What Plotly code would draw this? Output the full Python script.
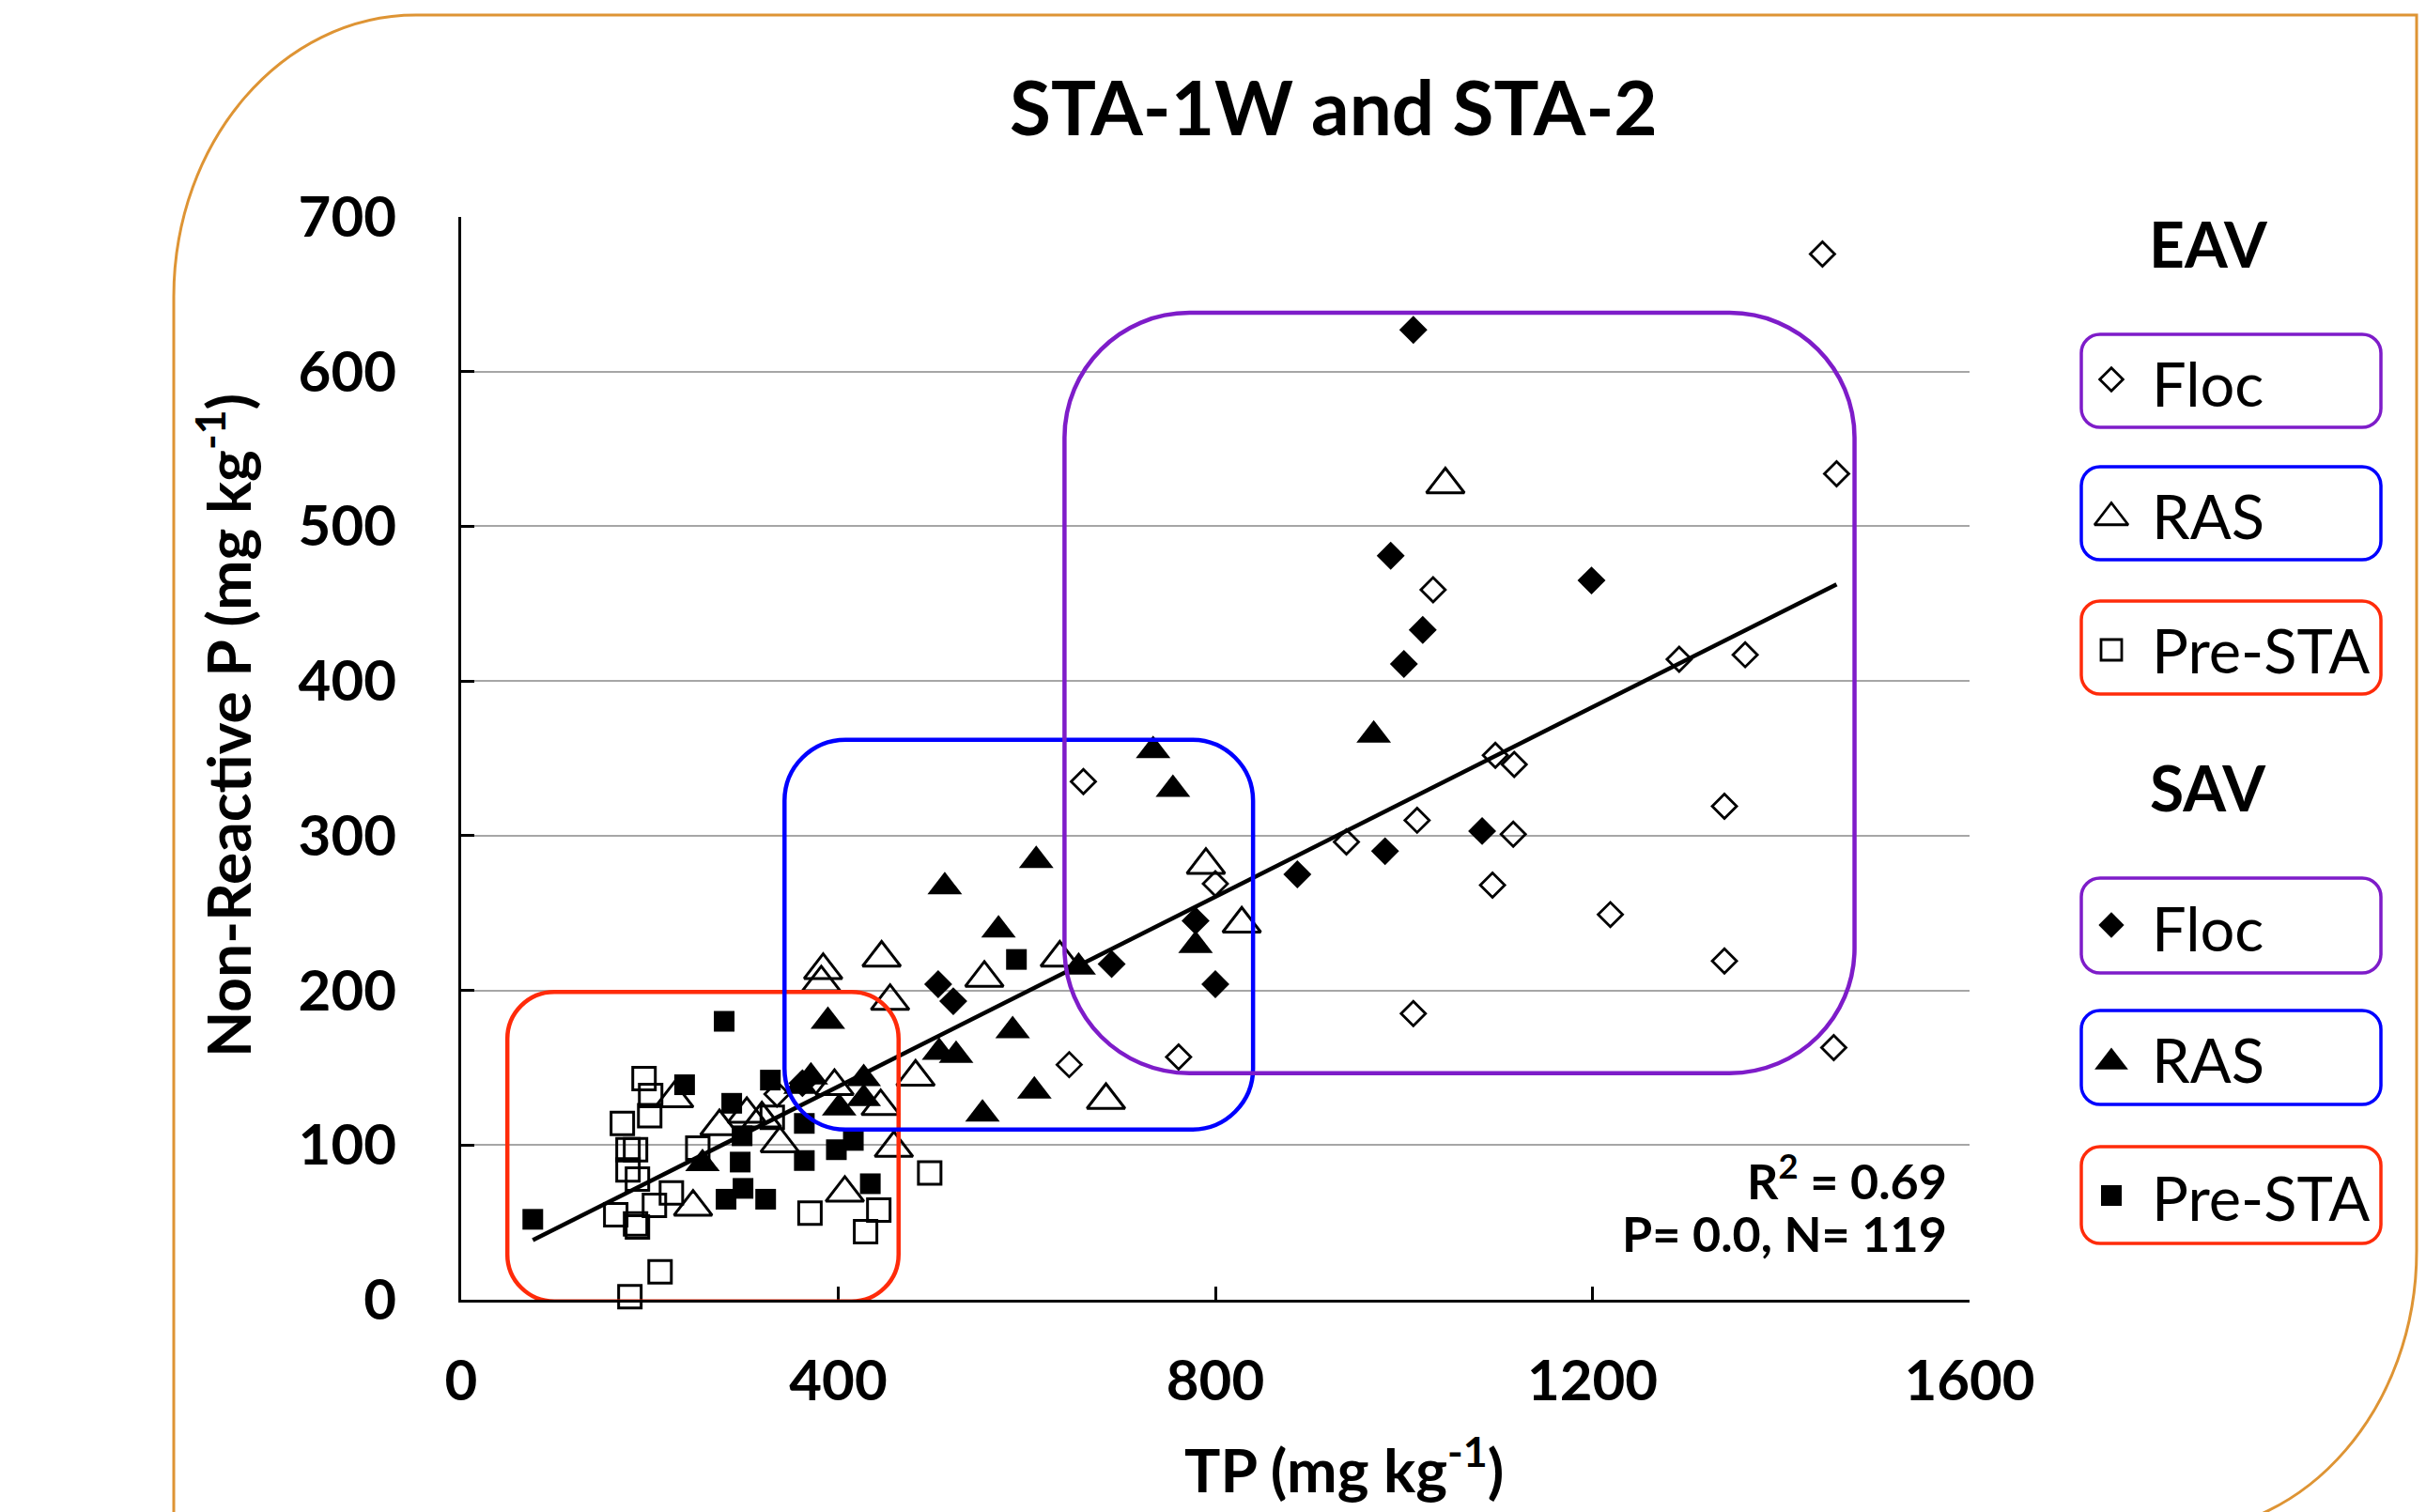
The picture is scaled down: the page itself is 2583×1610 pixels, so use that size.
import plotly.graph_objects as go

# ---------------- data ----------------
eav_floc_tp  = [1444, 1459, 1456, 1031, 1292, 1362, 1097, 1117, 1014, 939, 1116, 1340, 1094, 1219, 1340, 1010, 660, 800, 645, 761, 335]
eav_floc_nrp = [676, 534, 163, 459, 414, 417, 352, 346, 310, 296, 301, 319, 268, 249, 219, 185, 335, 269, 152, 157, 133]

sav_floc_tp  = [1010, 986, 1020, 1000, 1199, 980, 1083, 887, 779, 800, 690, 506, 522, 362]
sav_floc_nrp = [627, 481, 433, 411, 465, 290, 303, 275, 245, 204, 217, 204, 193, 140]

eav_ras_tp  = [1044, 790, 828, 635, 446, 384, 382, 455, 555, 482, 684, 459, 396, 445, 226, 274, 303, 319, 338, 246, 407]
eav_ras_nrp = [527, 281, 243, 221, 221, 213, 205, 193, 208, 144, 129, 98, 138, 125, 130, 112, 120, 117, 101, 60, 69]

sav_ras_tp  = [734, 755, 968, 610, 513, 570, 655, 779, 585, 507, 525, 608, 553, 389, 371, 360, 427, 401, 427, 256]
sav_ras_nrp = [355, 330, 365, 284, 267, 239, 215, 229, 174, 160, 158, 135, 120, 180, 144, 138, 143, 124, 130, 88]

eav_pre_tp  = [194, 201, 200, 171, 177, 185, 177, 187, 223, 205, 164, 185, 187, 211, 179, 251, 370, 443, 429, 330, 497]
eav_pre_nrp = [143, 132, 119, 114, 97, 97, 84, 78, 69, 61, 55, 49, 47, 18, 2, 98, 56, 58, 44, 118, 82]

sav_pre_tp  = [76, 279, 237, 328, 287, 296, 299, 281, 323, 364, 364, 398, 416, 434, 589, 298]
sav_pre_nrp = [52, 180, 139, 142, 127, 89, 72, 65, 65, 114, 90, 97, 103, 75, 220, 106]

# regression line
FIT_SLOPE = 0.3066
FIT_INTERCEPT = 15.2

x_ticks = [0, 400, 800, 1200, 1600]
y_ticks = [0, 100, 200, 300, 400, 500, 600, 700]

legend_groups = ["EAV", "SAV"]
legend_labels = ["Floc", "RAS", "Pre-STA", "Floc", "RAS", "Pre-STA"]

# ---------------- geometry (screen pixels; page has an 8px body margin) ----------------
OFF = 8
W, H = 2583 - OFF, 1610 - OFF
SL, SR, ST, SB = 491, 2097, 231, 1384          # main plot-area bounds on screen
XR, YR = [0, 1600], [0, 700]
FONT = "Lato, sans-serif"
PURPLE, BLUE, RED, ORANGE = "#7E1CC9", "#0000FF", "#FF2B0A", "#DE9434"


def PX(sx):
    return (sx - OFF) / W


def PY(sy):
    return 1 - (sy - OFF) / H


ux = (XR[1] - XR[0]) / (SR - SL)
uy = (YR[1] - YR[0]) / (SB - ST)

K = 0.5523


def rrect(x0, x1, y0, y1, rx, ry):
    """Rounded rectangle path (y0 bottom, y1 top in an upward axis)."""
    return (f"M{x0+rx},{y1} L{x1-rx},{y1} "
            f"C{x1-rx+K*rx},{y1} {x1},{y1-ry+K*ry} {x1},{y1-ry} "
            f"L{x1},{y0+ry} "
            f"C{x1},{y0+ry-K*ry} {x1-rx+K*rx},{y0} {x1-rx},{y0} "
            f"L{x0+rx},{y0} "
            f"C{x0+rx-K*rx},{y0} {x0},{y0+ry-K*ry} {x0},{y0+ry} "
            f"L{x0},{y1-ry} "
            f"C{x0},{y1-ry+K*ry} {x0+rx-K*rx},{y1} {x0+rx},{y1} Z")


fig = go.Figure()

# ---------------- data markers ----------------
def add_pts(x, y, symbol, size, lw=0):
    fig.add_trace(go.Scatter(
        x=x, y=y, mode="markers", cliponaxis=False, showlegend=False, hoverinfo="skip",
        marker=dict(symbol=symbol, size=size, color="black", line=dict(width=lw, color="black"))))

add_pts(eav_pre_tp, eav_pre_nrp, "square-open", 24, 3)
add_pts(sav_pre_tp, sav_pre_nrp, "square", 22)
add_pts(eav_ras_tp, eav_ras_nrp, "triangle-up-open", 35, 3)
add_pts(sav_ras_tp, sav_ras_nrp, "triangle-up", 32)
add_pts(eav_floc_tp, eav_floc_nrp, "diamond-open", 20, 2.8)
add_pts(sav_floc_tp, sav_floc_nrp, "diamond", 23)

all_tp = eav_floc_tp + sav_floc_tp + eav_ras_tp + sav_ras_tp + eav_pre_tp + sav_pre_tp
xa, xb = min(all_tp), max(all_tp)
fig.add_trace(go.Scatter(
    x=[xa, xb], y=[FIT_INTERCEPT + FIT_SLOPE * xa, FIT_INTERCEPT + FIT_SLOPE * xb],
    mode="lines", line=dict(color="black", width=4.5), showlegend=False, hoverinfo="skip"))

# ---------------- legend markers (own small invisible axes) ----------------
LGX0, LGX1, LGY0, LGY1 = 2200, 2300, 330, 1340
leg_mx = 2248
leg_marks = [(404, "diamond-open", 19, 2.8), (551, "triangle-up-open", 31, 2.8), (692, "square-open", 22, 2.8),
             (985, "diamond", 21, 0), (1131, "triangle-up", 31, 0), (1273, "square", 22, 0)]
for yy, sym, sz, lw in leg_marks:
    fig.add_trace(go.Scatter(x=[leg_mx], y=[yy], xaxis="x2", yaxis="y2", mode="markers",
                             cliponaxis=False, showlegend=False, hoverinfo="skip",
                             marker=dict(symbol=sym, size=sz, color="black",
                                         line=dict(width=lw, color="black"))))

# ---------------- grouping boxes (data coords) ----------------
boxes = [
    (49, 464, -1, 199, 50, RED),
    (343, 840, 110, 362, 65, BLUE),
    (640, 1478, 146.5, 638, 133, PURPLE),
]
shapes = []
for x0, x1, y0, y1, r, c in boxes:
    shapes.append(dict(type="path", xref="x", yref="y", layer="above",
                       path=rrect(x0, x1, y0, y1, r * ux, r * uy),
                       line=dict(color=c, width=4.5)))

# ---------------- legend boxes (paper coords) ----------------
leg_x0, leg_x1 = 2216, 2535
leg_rows = [(356, 455, PURPLE), (497, 596, BLUE), (640, 739, RED),
            (935, 1036, PURPLE), (1076, 1176, BLUE), (1221, 1324, RED)]
rpx = 20
for top, bot, c in leg_rows:
    shapes.append(dict(type="path", xref="paper", yref="paper", layer="above",
                       path=rrect(PX(leg_x0), PX(leg_x1), PY(bot), PY(top), rpx / W, rpx / H),
                       line=dict(color=c, width=3.5)))

# ---------------- outer rounded border ----------------
ox0, ox1, oy0, oy1 = 185, 2573, 16, 1632
orx, ory = 258, 300
kx, ky = orx * K, ory * K
P = lambda x, y: f"{PX(x)},{PY(y)}"
outer = (f"M{P(ox0+orx, oy0)} L{P(ox1, oy0)} L{P(ox1, oy1-ory)} "
         f"C{P(ox1, oy1-ory+ky)} {P(ox1-orx+kx, oy1)} {P(ox1-orx, oy1)} "
         f"L{P(ox0, oy1)} L{P(ox0, oy0+ory)} "
         f"C{P(ox0, oy0+ory-ky)} {P(ox0+orx-kx, oy0)} {P(ox0+orx, oy0)}")
shapes.append(dict(type="path", xref="paper", yref="paper", layer="above",
                   path=outer, line=dict(color=ORANGE, width=3)))

# ---------------- annotations ----------------
ann = []
def txt(s, x, y, size, bold=True, xanchor="center", yanchor="middle", angle=0, align="center"):
    ann.append(dict(text=f"<b>{s}</b>" if bold else s, x=PX(x), y=PY(y), xref="paper", yref="paper",
                    showarrow=False, xanchor=xanchor, yanchor=yanchor, textangle=angle, align=align,
                    font=dict(family=FONT, size=size, color="black")))

txt("STA-1W and STA-2", 1420, 113, 80)
txt("Non-Reactive P (mg kg<sup>-1</sup>)", 238, 772, 64, angle=-90)
txt("TP (mg kg<sup>-1</sup>)", 1431, 1560, 64)
stats = ('<span style="font-size:52px">R<sup>2</sup> = 0.69</span><br>'
         '<span style="font-size:52px">P= 0.0, N= 119</span>')
txt(stats, 2075, 1281, 43, xanchor="right", align="right")
txt(legend_groups[0], 2351, 259, 66)
txt(legend_groups[1], 2351, 838, 66)
for (top, bot, c), lab in zip(leg_rows, legend_labels):
    txt(lab, 2289, (top + bot) / 2 + 2, 65, bold=False, xanchor="left")

# ---------------- layout ----------------
fig.update_layout(
    width=W, height=H,
    margin=dict(l=0, r=0, t=0, b=0, pad=0, autoexpand=False),
    paper_bgcolor="white", plot_bgcolor="white",
    showlegend=False,
    shapes=shapes, annotations=ann,
    xaxis=dict(domain=[PX(SL), PX(SR)], range=XR, tickvals=x_ticks, showgrid=False, zeroline=False,
               automargin=False,
               showline=True, linecolor="black", linewidth=3,
               ticks="inside", ticklen=14, tickwidth=3, tickcolor="black",
               ticklabelstandoff=32,
               tickfont=dict(family=FONT, size=60, color="black", weight="bold")),
    yaxis=dict(domain=[PY(SB), PY(ST)], range=YR, tickvals=y_ticks, showgrid=True,
               automargin=False,
               gridcolor="#A6A6A6", gridwidth=2,
               zeroline=False, showline=True, linecolor="black", linewidth=3,
               ticks="inside", ticklen=14, tickwidth=3, tickcolor="black",
               ticklabelstandoff=54,
               tickfont=dict(family=FONT, size=60, color="black", weight="bold")),
    xaxis2=dict(domain=[PX(LGX0), PX(LGX1)], range=[LGX0, LGX1], visible=False, anchor="y2",
                automargin=False),
    yaxis2=dict(domain=[PY(LGY1), PY(LGY0)], range=[LGY1, LGY0], visible=False, anchor="x2",
                automargin=False),
)

fig.write_html("out.html")
